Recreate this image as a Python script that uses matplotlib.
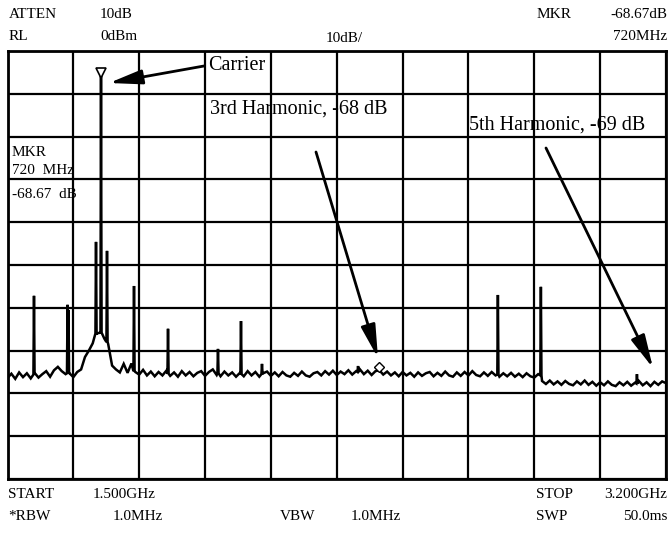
import numpy as np
import matplotlib
matplotlib.use("Agg")
import matplotlib.pyplot as plt

plt.rcParams['font.family'] = ['Liberation Serif', 'DejaVu Serif']

# ---------------- data ----------------
f_start, f_stop = 1.5, 3.2          # GHz
ref_level, db_per_div = 0.0, 10.0   # dBm, dB/div

floor_f = np.round(1.5 + 0.01 * np.arange(171), 3)
floor_db = [
    -76.4, -75.4, -76.6, -75.1, -76.2, -75.3, -76.5, -75.2, -76.3, -75.5,
    -74.8, -76.1, -74.6, -73.8, -74.8, -75.5, -75.3, -76.2, -75.0, -74.4,
    -71.5, -70.0, -68.3, -66.2, -65.5, -67.2, -68.5, -73.5, -74.4, -75.1,
    -73.1, -75.2, -73.0, -75.0, -75.6, -74.5, -75.8, -74.9, -76.0, -75.0,
    -75.8, -74.7, -75.9, -75.1, -76.1, -74.8, -75.8, -75.0, -76.0, -75.2,
    -74.8, -75.9, -75.0, -74.4, -75.7, -76.0, -74.9, -75.8, -75.1, -76.1,
    -75.2, -76.0, -74.8, -75.8, -75.0, -76.1, -75.3, -74.9, -75.9, -75.1,
    -76.0, -75.0, -75.8, -76.1, -75.2, -75.9, -74.9, -75.8, -76.1, -75.3,
    -75.0, -75.8, -74.8, -75.6, -74.7, -75.7, -74.9, -75.5, -74.6, -75.6,
    -74.8, -74.4, -75.5, -74.7, -75.7, -74.8, -74.6, -75.6, -74.9, -75.8,
    -75.1, -76.0, -75.0, -75.8, -75.2, -76.1, -75.1, -75.9, -75.3, -75.0,
    -76.0, -75.2, -75.9, -74.9, -75.8, -76.1, -75.1, -75.9, -75.0, -75.8,
    -74.8, -75.7, -76.0, -75.1, -75.9, -75.0, -75.8, -76.1, -75.3, -76.0,
    -75.2, -76.1, -75.4, -76.2, -75.3, -76.0, -76.3, -75.5, -77.1, -77.8,
    -77.0, -77.9, -77.2, -78.0, -77.1, -77.8, -78.1, -77.2, -77.9, -77.0,
    -78.0, -77.3, -78.2, -77.4, -78.1, -77.2, -78.0, -78.3, -77.4, -78.1,
    -77.3, -78.2, -77.5, -77.1, -78.1, -77.4, -78.3, -77.3, -78.0, -77.2,
    -77.6,
]

spike_f = [1.5684, 1.6550, 1.6575, 1.7285, 1.7414, 1.7569, 1.8266, 1.9144,
           2.0434, 2.1028, 2.1570, 2.4050, 2.7660, 2.8770, 3.1250]
spike_peak = [-57.2, -59.3, -60.5, -44.6, -5.6, -46.7, -54.9, -64.9,
              -69.6, -63.1, -73.1, -73.6, -57.0, -55.1, -75.5]
spike_base = [-75.6, -75.3, -75.4, -66.0, -65.8, -68.0, -74.8, -75.4,
              -75.3, -75.5, -75.5, -75.0, -75.6, -75.8, -77.7]

carrier_marker = (1.7414, -5.1)
harm3_marker = (2.4590, -73.8)

# ---------------- figure ----------------
W, H = 668, 540
fig = plt.figure(figsize=(W / 100, H / 100), dpi=100)
fig.patch.set_facecolor('white')

x0, x1, y0, y1 = 7.5, 666.0, 51.0, 479.0
ax = fig.add_axes([x0 / W, 1 - y1 / H, (x1 - x0) / W, (y1 - y0) / H])

# trace
hw = 0.0015
pts = list(zip(floor_f, floor_db))
for f, p, b in zip(spike_f, spike_peak, spike_base):
    pts += [(f - hw, b), (f, p), (f + hw, b)]
pts.sort(key=lambda t: t[0])
tf = [p[0] for p in pts]
tl = [p[1] for p in pts]
ax.plot(tf, tl, color='black', lw=1.8, solid_joinstyle='miter', zorder=3)

ax.plot(*carrier_marker, marker='v', ms=7, mfc='white', mec='black', mew=1.2, zorder=4)
ax.plot(*harm3_marker, marker='D', ms=5, mfc='white', mec='black', mew=1.0, zorder=4)

ax.set_xlim(f_start, f_stop)
ax.set_ylim(ref_level - 10 * db_per_div, ref_level)
ax.set_xticks(np.linspace(f_start, f_stop, 11))
ax.set_yticks(np.linspace(ref_level - 10 * db_per_div, ref_level, 11))
ax.grid(True, color='black', lw=1.6)
ax.set_axisbelow(True)
ax.tick_params(length=0, labelbottom=False, labelleft=False)
for s in ax.spines.values():
    s.set_linewidth(2.0)
    s.set_color('black')

def px2data(x, y):
    f = f_start + (x - x0) / (x1 - x0) * (f_stop - f_start)
    d = ref_level - (y - y0) / (y1 - y0) * 10 * db_per_div
    return f, d

# annotations
afs = 14.5
ax.text(*px2data(208, 65), 'Carrier', fontsize=afs, va='center', ha='left', zorder=5)
ax.text(*px2data(210, 109), '3rd Harmonic, -68 dB', fontsize=afs, va='center', ha='left', zorder=5)
ax.text(*px2data(469, 125), '5th Harmonic, -69 dB', fontsize=afs, va='center', ha='left', zorder=5)

aprops = dict(arrowstyle='-|>,head_length=1.0,head_width=0.22', lw=2.0,
              color='black', mutation_scale=20, shrinkA=0, shrinkB=0)
ax.annotate('', xy=px2data(109, 83), xytext=px2data(204, 66), arrowprops=aprops, zorder=5)
ax.annotate('', xy=px2data(378, 358), xytext=px2data(316, 152), arrowprops=aprops, zorder=5)
ax.annotate('', xy=px2data(653, 368), xytext=px2data(546, 148), arrowprops=aprops, zorder=5)

mfs = 11
ax.text(*px2data(12, 152), 'MKR', fontsize=mfs, va='center', ha='left')
ax.text(*px2data(12, 170), '720  MHz', fontsize=mfs, va='center', ha='left')
ax.text(*px2data(12, 195), '-68.67  dB', fontsize=mfs, va='center', ha='left')

# header / footer
hfs = 11
def ftext(x, y, s, ha='left'):
    fig.text(x / W, 1 - y / H, s, fontsize=hfs, ha=ha, va='center')

ftext(9, 15, 'ATTEN')
ftext(100, 15, '10dB')
ftext(537, 15, 'MKR')
ftext(667, 15, '-68.67dB', ha='right')
ftext(9, 37, 'RL')
ftext(100, 37, '0dBm')
ftext(344, 38, '10dB/', ha='center')
ftext(667, 37, '720MHz', ha='right')

ftext(8, 495, 'START')
ftext(93, 495, '1.500GHz')
ftext(536, 495, 'STOP')
ftext(667, 495, '3.200GHz', ha='right')
ftext(8, 517, '*RBW')
ftext(163, 517, '1.0MHz', ha='right')
ftext(280, 517, 'VBW')
ftext(351, 517, '1.0MHz')
ftext(536, 517, 'SWP')
ftext(667, 517, '50.0ms', ha='right')

fig.savefig('out.png', dpi=100, facecolor='white')
